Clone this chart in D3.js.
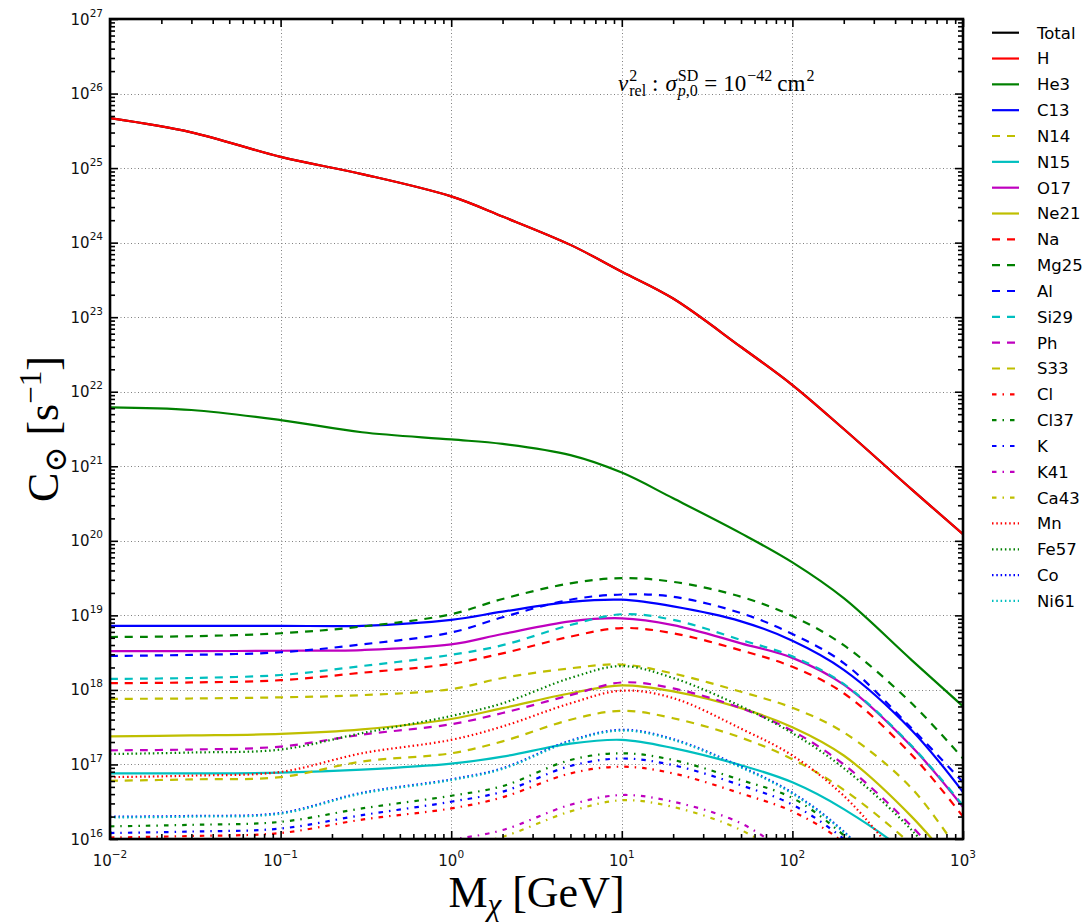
<!DOCTYPE html>
<html>
<head>
<meta charset="utf-8">
<script src="https://cdn.jsdelivr.net/npm/d3@7"></script>
<style>
  body { margin: 0; background: #fff; }
  svg { display: block; }
</style>
</head>
<body>
<svg id="chart" width="1089" height="922"></svg>
<script>
// Dark-matter mass grid [GeV]
const masses = [0.01, 0.03, 0.1, 0.3, 1, 2, 5, 10, 20, 50, 100, 200, 500, 1000];

// log10 of the solar capture rate C [s^-1] for each target, on the mass grid above
const Total = [25.67, 25.48, 25.15, 24.92, 24.62, 24.35, 23.97, 23.61, 23.25, 22.60, 22.09, 21.50, 20.69, 20.09];
const H     = [25.67, 25.48, 25.15, 24.92, 24.62, 24.35, 23.97, 23.61, 23.25, 22.60, 22.09, 21.50, 20.69, 20.09];
const He3   = [21.79, 21.755, 21.62, 21.456, 21.36, 21.30, 21.15, 20.915, 20.57, 20.10, 19.71, 19.23, 18.40, 17.78];
const C13   = [18.86, 18.86, 18.86, 18.86, 18.94, 19.05, 19.18, 19.21, 19.12, 18.92, 18.66, 18.27, 17.46, 16.63];
const N14   = [17.88, 17.885, 17.90, 17.93, 18.01, 18.16, 18.29, 18.34, 18.22, 17.975, 17.76, 17.43, 16.68, 15.75];
const N15   = [16.88, 16.88, 16.89, 16.93, 17.01, 17.105, 17.28, 17.33, 17.22, 16.99, 16.76, 16.40, 15.75, 14.9];
const O17   = [18.52, 18.52, 18.525, 18.535, 18.61, 18.75, 18.92, 18.96, 18.87, 18.625, 18.43, 18.07, 17.24, 16.43];
const Ne21  = [17.378, 17.39, 17.41, 17.47, 17.61, 17.755, 17.955, 18.06, 17.98, 17.755, 17.50, 17.12, 16.30, 15.5];
const Na    = [18.09, 18.10, 18.13, 18.23, 18.35, 18.49, 18.715, 18.83, 18.76, 18.53, 18.31, 17.955, 17.13, 16.30];
const Mg25  = [18.71, 18.72, 18.76, 18.85, 19.015, 19.22, 19.43, 19.50, 19.45, 19.25, 18.99, 18.60, 17.82, 17.08];
const Al    = [18.455, 18.47, 18.505, 18.61, 18.77, 18.975, 19.21, 19.28, 19.25, 19.03, 18.75, 18.36, 17.485, 16.76];
const Si29  = [18.147, 18.16, 18.20, 18.32, 18.47, 18.60, 18.87, 19.015, 18.94, 18.67, 18.45, 18.08, 17.25, 16.45];
const Ph    = [17.19, 17.20, 17.24, 17.40, 17.54, 17.69, 17.93, 18.10, 18.02, 17.755, 17.45, 17.00, 16.17, 15.4];
const S33   = [16.78, 16.80, 16.83, 17.04, 17.15, 17.31, 17.60, 17.72, 17.62, 17.36, 17.07, 16.66, 15.92, 15.2];
const Cl    = [16.02, 16.04, 16.08, 16.26, 16.41, 16.56, 16.88, 16.97, 16.88, 16.61, 16.37, 15.95, 15.0, 14.2];
const Cl37  = [16.17, 16.19, 16.23, 16.41, 16.58, 16.71, 17.06, 17.15, 17.06, 16.79, 16.55, 16.05, 15.15, 14.4];
const K     = [16.08, 16.10, 16.14, 16.32, 16.50, 16.635, 16.98, 17.08, 16.99, 16.72, 16.46, 16.00, 15.1, 14.3];
const K41   = [15.55, 15.57, 15.61, 15.80, 15.99, 16.12, 16.46, 16.59, 16.50, 16.21, 15.75, 15.2, 14.3, 13.5];
const Ca43  = [15.45, 15.47, 15.51, 15.70, 15.88, 16.03, 16.37, 16.52, 16.43, 16.12, 15.68, 15.1, 14.2, 13.4];
const Mn    = [16.83, 16.85, 16.90, 17.15, 17.33, 17.51, 17.82, 17.99, 17.89, 17.48, 17.12, 16.58, 15.55, 14.8];
const Fe57  = [17.14, 17.16, 17.20, 17.42, 17.65, 17.82, 18.16, 18.32, 18.16, 17.78, 17.42, 16.95, 16.12, 15.3];
const Co    = [16.30, 16.31, 16.35, 16.62, 16.80, 16.95, 17.32, 17.465, 17.34, 16.97, 16.62, 16.10, 15.1, 14.3];
const Ni61  = [16.29, 16.30, 16.34, 16.61, 16.79, 16.94, 17.31, 17.455, 17.33, 16.96, 16.61, 16.09, 15.1, 14.3];

// Tick labels (exponents of 10)
const xTickExps = [-2, -1, 0, 1, 2, 3];
const yTickExps = [16, 17, 18, 19, 20, 21, 22, 23, 24, 25, 26, 27];

// Colours and line styles
const COL = { k: "#000000", r: "#ff0000", g: "#008000", b: "#0000ff", c: "#00bfbf", m: "#bf00bf", y: "#bfbf00" };
const DASH = { solid: null, dashed: "8,7", dashdot: "4.5,6,1.5,6", dotted: "1.5,2.8" };

const series = [
  { name: "Total", values: Total, color: COL.k, style: "solid" },
  { name: "H",     values: H,     color: COL.r, style: "solid" },
  { name: "He3",   values: He3,   color: COL.g, style: "solid" },
  { name: "C13",   values: C13,   color: COL.b, style: "solid" },
  { name: "N14",   values: N14,   color: COL.y, style: "dashed" },
  { name: "N15",   values: N15,   color: COL.c, style: "solid" },
  { name: "O17",   values: O17,   color: COL.m, style: "solid" },
  { name: "Ne21",  values: Ne21,  color: COL.y, style: "solid" },
  { name: "Na",    values: Na,    color: COL.r, style: "dashed" },
  { name: "Mg25",  values: Mg25,  color: COL.g, style: "dashed" },
  { name: "Al",    values: Al,    color: COL.b, style: "dashed" },
  { name: "Si29",  values: Si29,  color: COL.c, style: "dashed" },
  { name: "Ph",    values: Ph,    color: COL.m, style: "dashed" },
  { name: "S33",   values: S33,   color: COL.y, style: "dashed" },
  { name: "Cl",    values: Cl,    color: COL.r, style: "dashdot" },
  { name: "Cl37",  values: Cl37,  color: COL.g, style: "dashdot" },
  { name: "K",     values: K,     color: COL.b, style: "dashdot" },
  { name: "K41",   values: K41,   color: COL.m, style: "dashdot" },
  { name: "Ca43",  values: Ca43,  color: COL.y, style: "dashdot" },
  { name: "Mn",    values: Mn,    color: COL.r, style: "dotted" },
  { name: "Fe57",  values: Fe57,  color: COL.g, style: "dotted" },
  { name: "Co",    values: Co,    color: COL.b, style: "dotted" },
  { name: "Ni61",  values: Ni61,  color: COL.c, style: "dotted" }
];

// Layout
const L = 110, R = 963, T = 19, B = 839;
const svg = d3.select("#chart");

const x = d3.scaleLog().domain([1e-2, 1e3]).range([L, R]);
const y = d3.scaleLog().domain([1e16, 1e27]).range([B, T]);

const SANS = "'DejaVu Sans', 'Noto Sans', sans-serif";
const SERIF = "'Liberation Serif', 'DejaVu Serif', serif";

// Grid
const grid = svg.append("g").attr("stroke", "#808080").attr("stroke-width", 1).attr("stroke-dasharray", "1,2.5");
xTickExps.slice(1, -1).forEach(e => {
  const px = Math.round(x(Math.pow(10, e))) + 0.5;
  grid.append("line").attr("x1", px).attr("x2", px).attr("y1", T).attr("y2", B);
});
yTickExps.slice(1, -1).forEach(e => {
  const py = Math.round(y(Math.pow(10, e))) + 0.5;
  grid.append("line").attr("x1", L).attr("x2", R).attr("y1", py).attr("y2", py);
});

// Curves
svg.append("defs").append("clipPath").attr("id", "plotclip")
  .append("rect").attr("x", L).attr("y", T).attr("width", R - L).attr("height", B - T);

const line = d3.line()
  .x(d => x(d[0]))
  .y(d => y(d[1]))
  .curve(d3.curveCatmullRom.alpha(0.5));

const curves = svg.append("g").attr("clip-path", "url(#plotclip)");
series.forEach(s => {
  const pts = masses.map((m, i) => [m, Math.pow(10, s.values[i])]);
  curves.append("path")
    .attr("d", line(pts))
    .attr("fill", "none")
    .attr("stroke", s.color)
    .attr("stroke-width", 2.2)
    .attr("stroke-linejoin", "round")
    .attr("stroke-dasharray", DASH[s.style]);
});

// Ticks (inward, all four sides)
const xMajor = xTickExps.map(e => Math.pow(10, e));
const yMajor = yTickExps.map(e => Math.pow(10, e));
const xMinor = [], yMinor = [];
for (let e = -2; e < 3; e++) for (let k = 2; k <= 9; k++) xMinor.push(k * Math.pow(10, e));
for (let e = 16; e < 27; e++) for (let k = 2; k <= 9; k++) yMinor.push(k * Math.pow(10, e));

function tickAxis(axisFn, scale, vals, len, tx, ty) {
  const g = svg.append("g").attr("transform", `translate(${tx},${ty})`)
    .call(axisFn(scale).tickValues(vals).tickSize(-len).tickFormat(""));
  g.select(".domain").remove();
  g.selectAll(".tick line").attr("stroke", "#000").attr("stroke-width", 1.6);
  return g;
}
tickAxis(d3.axisBottom, x, xMajor, 8, 0, B);
tickAxis(d3.axisBottom, x, xMinor, 5, 0, B);
tickAxis(d3.axisTop, x, xMajor, 8, 0, T);
tickAxis(d3.axisTop, x, xMinor, 5, 0, T);
tickAxis(d3.axisLeft, y, yMajor, 8, L, 0);
tickAxis(d3.axisLeft, y, yMinor, 5, L, 0);
tickAxis(d3.axisRight, y, yMajor, 8, R, 0);
tickAxis(d3.axisRight, y, yMinor, 5, R, 0);

// Frame
svg.append("rect").attr("x", L).attr("y", T).attr("width", R - L).attr("height", B - T)
  .attr("fill", "none").attr("stroke", "#000").attr("stroke-width", 2.6);

// Tick labels: 10^n
const fmtExp = e => (e < 0 ? "\u2212" + Math.abs(e) : String(e));
yTickExps.forEach(e => {
  const t = svg.append("text")
    .attr("x", L - 7).attr("y", y(Math.pow(10, e)) + 5.5)
    .attr("text-anchor", "end")
    .attr("font-family", SANS).attr("font-size", 15).attr("fill", "#111");
  t.append("tspan").text("10");
  t.append("tspan").attr("dy", -8).attr("font-size", 10.5).text(fmtExp(e));
});
xTickExps.forEach(e => {
  const t = svg.append("text")
    .attr("x", x(Math.pow(10, e))).attr("y", B + 27)
    .attr("text-anchor", "middle")
    .attr("font-family", SANS).attr("font-size", 15).attr("fill", "#111");
  t.append("tspan").text("10");
  t.append("tspan").attr("dy", -8).attr("font-size", 10.5).text(fmtExp(e));
});

// Axis titles
const xl = svg.append("text")
  .attr("x", (L + R) / 2).attr("y", 907)
  .attr("text-anchor", "middle")
  .attr("font-family", SERIF).attr("font-size", 44).attr("fill", "#000");
xl.append("tspan").text("M");
xl.append("tspan").attr("dy", 8).attr("font-size", 31).attr("font-style", "italic").text("\u03c7");
xl.append("tspan").attr("dy", -8).text(" [GeV]");

const yl = svg.append("text")
  .attr("transform", `translate(58,${(T + B) / 2}) rotate(-90)`)
  .attr("text-anchor", "middle")
  .attr("font-family", SERIF).attr("font-size", 44).attr("fill", "#000");
yl.append("tspan").text("C");
yl.append("tspan").attr("dy", 8).attr("font-size", 31).text("\u2299");
yl.append("tspan").attr("dy", -8).text(" [s");
yl.append("tspan").attr("dy", -17).attr("font-size", 31).text("\u22121");
yl.append("tspan").attr("dy", 17).text("]");

// Annotation: v_rel^2 : sigma_{p,0}^{SD} = 10^{-42} cm^2
(function annotate() {
  const size = 23, small = 16;
  const base = 90.5;
  const g = svg.append("g").attr("font-family", SERIF).attr("fill", "#000");
  let cx = 618;
  function piece(parts, px, py, fs) {
    const t = g.append("text").attr("x", px).attr("y", py).attr("font-size", fs);
    parts.forEach(p => {
      t.append("tspan").attr("font-style", p.i ? "italic" : "normal").text(p.t);
    });
    return t.node().getComputedTextLength();
  }
  function main(parts, gapAfter) { cx += piece(parts, cx, base, size) + (gapAfter || 0); }
  function scripts(sup, sub, gapAfter) {
    let w = 0;
    if (sup) w = Math.max(w, piece(sup, cx, base - 9.5, small));
    if (sub) w = Math.max(w, piece(sub, cx, base + 5.5, small));
    cx += w + (gapAfter || 0);
  }
  main([{ t: "v", i: true }], 1);
  scripts([{ t: "2" }], [{ t: "rel" }], 6);
  main([{ t: ":" }], 7);
  main([{ t: "\u03c3", i: true }], 1);
  scripts([{ t: "SD" }], [{ t: "p", i: true }, { t: ",0" }], 6);
  main([{ t: "=" }], 6);
  main([{ t: "10" }], 1);
  scripts([{ t: "\u221242" }], null, 5);
  main([{ t: "cm" }], 1);
  scripts([{ t: "2" }], null, 0);
})();

// Legend (right of the axes)
const leg = svg.append("g");
series.forEach((s, i) => {
  const cy = 32.7 + i * 25.83;
  leg.append("line")
    .attr("x1", 992).attr("x2", 1019).attr("y1", cy).attr("y2", cy)
    .attr("stroke", s.color).attr("stroke-width", 2.2)
    .attr("stroke-dasharray", DASH[s.style]);
  leg.append("text")
    .attr("x", 1037).attr("y", cy).attr("dy", "0.36em")
    .attr("font-family", SANS).attr("font-size", 16.5).attr("fill", "#000")
    .text(s.name);
});
</script>
</body>
</html>
